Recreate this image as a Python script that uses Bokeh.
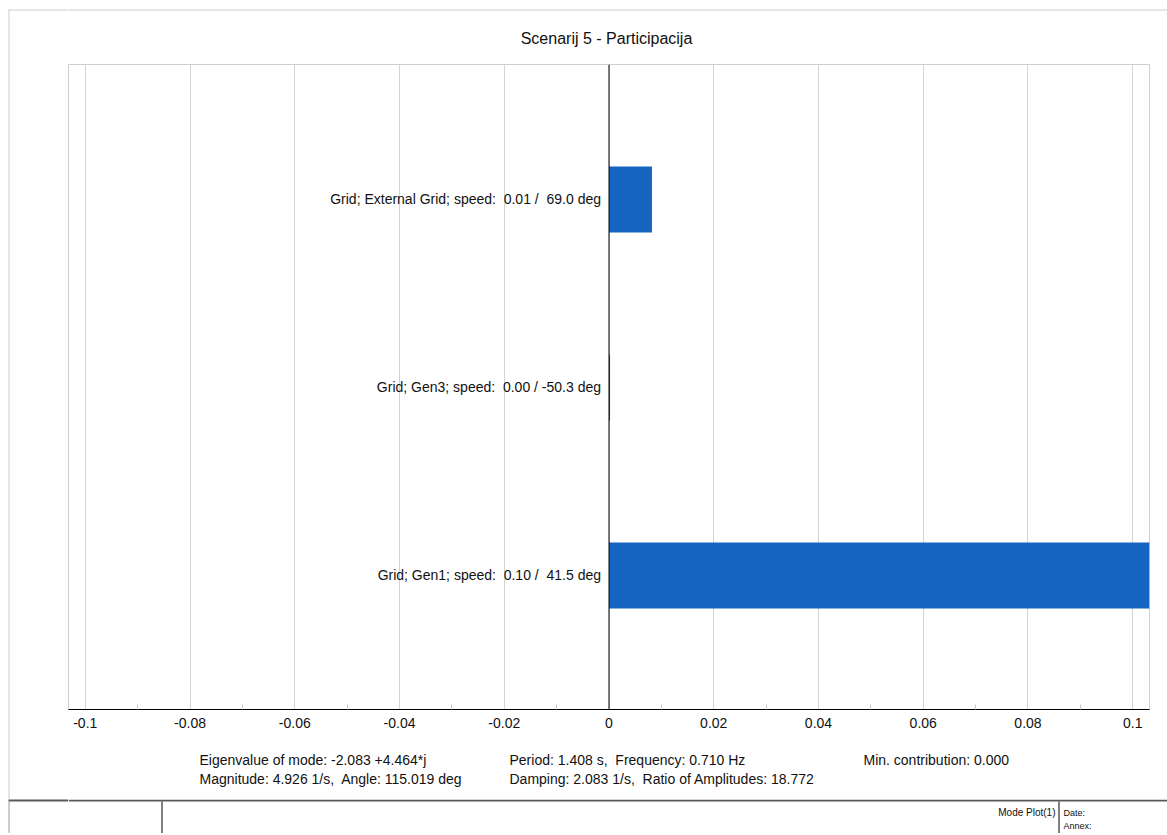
from bokeh.plotting import figure
from bokeh.models import ColumnDataSource, Range1d, FixedTicker, Span
from bokeh.layouts import column, row
from bokeh.embed import file_html
from bokeh.resources import INLINE
from bokeh.core.properties import value

# ---------------- data ----------------
title_text = "Scenarij 5 - Participacija"
categories = ["Grid; Gen1", "Grid; Gen3", "Grid; External Grid"]
contributions = [0.1045, 0.0002, 0.0082]
speed_labels = ["0.10", "0.00", "0.01"]
angles = [41.5, -50.3, 69.0]
positions = [1, 2, 3]

major_ticks = [-0.1, -0.08, -0.06, -0.04, -0.02, 0.0, 0.02, 0.04, 0.06, 0.08, 0.1]
tick_labels = ["-0.1", "-0.08", "-0.06", "-0.04", "-0.02", "0", "0.02", "0.04", "0.06", "0.08", "0.1"]
minor_ticks = [-0.09, -0.07, -0.05, -0.03, -0.01, 0.01, 0.03, 0.05, 0.07, 0.09]

info_left = ["Eigenvalue of mode: -2.083 +4.464*j", "Magnitude: 4.926 1/s,  Angle: 115.019 deg"]
info_mid = ["Period: 1.408 s,  Frequency: 0.710 Hz", "Damping: 2.083 1/s,  Ratio of Amplitudes: 18.772"]
info_right = ["Min. contribution: 0.000"]
footer_texts = ["Mode Plot(1)", "Date:", "Annex:"]

FONT = "Liberation Sans"
BAR_COLOR = "#1565C0"
TXT = "#111111"


def keep_spaces(s):
    # keep doubled spaces visible in SVG text
    return s.replace("  ", "\u00a0 ")


labels = [keep_spaces(f"{c}; speed: {s:>5} / {a:5.1f} deg")
          for c, s, a in zip(categories, speed_labels, angles)]

src = ColumnDataSource(dict(y=positions, value=contributions, label=labels,
                            zero=[0.0] * len(positions)))


def canvas(w, h):
    c = figure(width=w, height=h, x_range=Range1d(0, w), y_range=Range1d(h, 0),
               x_axis_location=None, y_axis_location=None, title=None,
               toolbar_location=None, output_backend="svg", min_border=0,
               frame_align=False)
    c.outline_line_color = None
    c.grid.visible = False
    c.background_fill_color = "white"
    c.border_fill_color = "white"
    return c


FOOT_H = 34
TOTAL_H = 64 + 676 + 59 + FOOT_H

# ---------------- left strip (page border) ----------------
left = canvas(68, TOTAL_H)
left.segment(x0=[8], y0=[9.5], x1=[68], y1=[9.5], line_color="#cccccc", line_width=1)
left.segment(x0=[8.5], y0=[9], x1=[8.5], y1=[799], line_color="#cccccc", line_width=1)
left.segment(x0=[8.5], y0=[801], x1=[8.5], y1=[TOTAL_H], line_color="#9a9a9a", line_width=1)
left.segment(x0=[8], y0=[800], x1=[68], y1=[800], line_color="#5a5a5a", line_width=2)

W = 1099

# ---------------- header ----------------
head = canvas(W, 64)
head.segment(x0=[0], y0=[9.5], x1=[W], y1=[9.5], line_color="#cccccc", line_width=1)
head.text(x=[538], y=[38], text=[title_text], text_align="center", text_baseline="middle",
          text_font=value(FONT), text_font_size="16px", text_color=TXT)

# ---------------- main chart ----------------
p = figure(width=W, height=676, x_range=Range1d(-0.1032, 0.1032),
           y_range=Range1d(0.287, 3.718), y_axis_location=None, title=None,
           toolbar_location=None, output_backend="svg", frame_align=False,
           min_border_left=0, min_border_right=18, min_border_top=0, min_border_bottom=31)
p.background_fill_color = "white"
p.border_fill_color = "white"
p.outline_line_color = "#cfcfcf"

ticker = FixedTicker(ticks=major_ticks, minor_ticks=minor_ticks)
p.xaxis.ticker = ticker
p.xaxis.major_label_overrides = {t: l for t, l in zip(major_ticks, tick_labels)}
p.xaxis.axis_line_color = "black"
p.xaxis.major_tick_line_color = None
p.xaxis.major_tick_in = 0
p.xaxis.major_tick_out = 0
p.xaxis.minor_tick_in = 5
p.xaxis.minor_tick_out = 0
p.xaxis.minor_tick_line_color = "#c8c8c8"
p.xaxis.major_label_text_font = FONT
p.xaxis.major_label_text_font_size = "14px"
p.xaxis.major_label_text_color = TXT
p.xaxis.major_label_standoff = 8

p.xgrid.ticker = ticker
p.xgrid.grid_line_color = "#d3d3d3"
p.ygrid.visible = False

p.hbar(y="y", left="zero", right="value", height=0.351, source=src,
       fill_color=BAR_COLOR, line_color=None)

p.add_layout(Span(location=0, dimension="height", line_color="black", line_width=1))

p.text(x="zero", y="y", text="label", source=src, x_offset=-8,
       text_align="right", text_baseline="middle",
       text_font=value(FONT), text_font_size="14px", text_color=TXT)

# ---------------- info block ----------------
info = canvas(W, 59)
for col_x, lines in [(131, info_left), (441, info_mid), (795, info_right)]:
    info.text(x=[col_x] * len(lines), y=[19 + 19 * i for i in range(len(lines))],
              text=[keep_spaces(t) for t in lines], text_align="left", text_baseline="middle",
              text_font=value(FONT), text_font_size="14px", text_color=TXT)

# ---------------- footer ----------------
foot = canvas(W, FOOT_H)
foot.segment(x0=[0], y0=[1], x1=[W], y1=[1], line_color="#5a5a5a", line_width=2)
foot.segment(x0=[93.5, 990.5], y0=[2, 2], x1=[93.5, 990.5], y1=[FOOT_H, FOOT_H],
             line_color="black", line_width=1)
foot.text(x=[987], y=[13], text=[footer_texts[0]], text_align="right", text_baseline="middle",
          text_font=value(FONT), text_font_size="10px", text_color=TXT)
foot.text(x=[995, 995], y=[13, 26], text=footer_texts[1:], text_align="left",
          text_baseline="middle", text_font=value(FONT), text_font_size="9px", text_color=TXT)

layout = row(left, column(head, p, info, foot, spacing=0), spacing=0)
open("out.html", "w").write(file_html(layout, INLINE))
